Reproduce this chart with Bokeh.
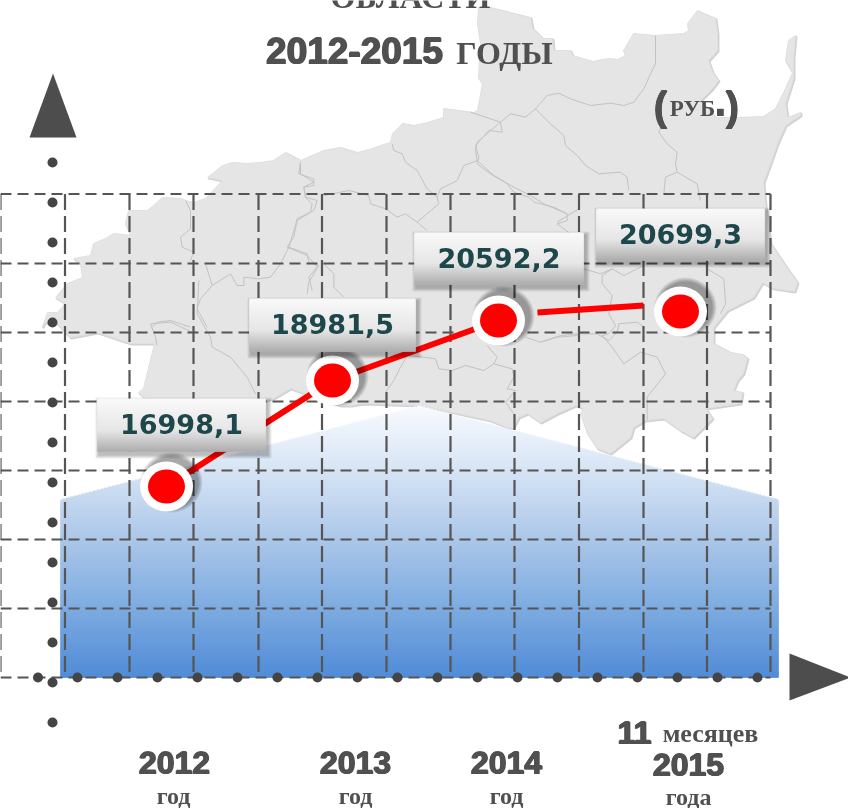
from bokeh.plotting import figure
from bokeh.models import Range1d
from bokeh.core.properties import value
from bokeh.embed import file_html
from bokeh.resources import INLINE

# ---------- chart data ----------
years = ["2012", "2013", "2014", "2015"]
year_units = ["год", "год", "год", "года"]
values = [16998.1, 18981.5, 20592.2, 20699.3]
point_x = [166, 332, 498, 680]
point_y = [486, 380, 320, 311]
box_left = [97, 249, 414, 596]
box_right = [265, 415, 583, 764]
box_top = [398, 298, 232, 208]
box_bottom = [451, 351, 284, 260]
year_x = [174, 355, 506, 688]
year_y = [762, 762, 762, 764]
unit_x = [173, 355, 506, 688]
unit_y = [795, 795, 795, 796]
grid_x = [0, 64.5, 129, 193, 258, 321.5, 386, 450, 514, 578.5, 643, 706.5, 770]
grid_y = [193.5, 263, 332, 401, 470, 539, 608, 677]
dots_v_y = [162, 202, 242, 282, 322, 362, 402, 442, 482, 522, 562, 602, 642, 682, 722]
dots_h_x = [37.5, 77, 117, 157, 197, 237, 277, 317, 357, 397, 437, 477, 517, 557, 597, 637, 677, 717, 757]
segment3_start = (537, 312)
segment3_end = (643, 305)
hill_x = [60, 419, 778]
hill_y = [499, 405, 499]
hill_base = 677
hill_stops = [(405, (248, 250, 254)), (470, (214, 228, 245)), (540, (170, 198, 232)),
              (600, (130, 174, 226)), (677, (80, 139, 214))]

map_x, map_y = zip(*[
    (478,7),(490,7),(510,12),(530,17),(532,28),(542,38),(552,38),(553,50),(570,50),(572,55),(592,61),(608,58),
    (617,59),(625,55),(623,50),(633,33),(655,35),(683,33),(688,30),(687,23),(697,10),(703,13),(715,18),(717,33),
    (717,50),(708,60),(712,72),(718,80),(712,88),(700,100),(715,117),(737,117),(763,116),(775,108),(785,88),(792,72),
    (785,60),(788,40),(795,35),(793,57),(793,78),(785,103),(787,117),(800,112),(800,115),(785,125),(777,143),
    (770,163),(763,182),(765,205),(768,225),(770,243),(787,268),(797,282),(794,291),(773,288),(762,282),(753,297),
    (727,310),(713,327),(713,343),(730,352),(742,354),(747,358),(743,373),(737,380),(733,390),(742,392),(740,403),
    (705,408),(712,418),(693,437),(680,430),(663,418),(645,420),(633,427),(630,437),(610,453),(597,448),(587,433),
    (580,413),(583,408),(575,405),(557,413),(540,422),(527,413),(518,417),(513,427),(507,427),(490,420),(420,405),
    (363,403),(350,405),(340,405),(310,395),(290,388),(273,398),(265,400),(147,400),(138,392),(143,388),(154,343),
    (130,343),(97,332),(70,337),(54,320),(43,323),(42,327),(47,312),(57,312),(65,303),(55,297),(67,283),(82,277),
    (80,263),(73,258),(90,255),(93,243),(105,238),(113,233),(130,235),(125,223),(128,210),(147,210),(162,197),
    (180,198),(185,200),(193,202),(205,198),(222,180),(207,177),(222,165),(232,162),(247,163),(260,162),(273,160),
    (285,152),(300,160),(323,150),(340,147),(357,152),(372,148),(380,145),(390,142),(392,133),(402,123),(413,125),
    (427,122),(443,117),(443,108),(473,112),(477,110),(482,83),(478,77),(480,43),(477,23),
])

borders = [
    (470, 0, [(555,105),(555,190),(540,220),(520,265),(490,305),(460,315),(420,308),(360,315),(300,295),(265,278),(230,285),(195,325),(165,350),(120,340),(90,365),(95,395),(55,390),(15,435),(25,470),(20,490),(60,520),(110,550),(130,575),(175,590),(190,605),(250,620),(290,640)]),
    (470, 0, [(195,325),(240,370),(280,405),(285,435),(320,465),(345,495),(385,520),(450,515),(470,530),(475,570)]),
    (470, 0, [(575,370),(565,395),(590,430),(620,455),(615,490),(620,515),(680,550),(690,600)]),
    (470, 0, [(620,515),(585,530),(580,580)]),
    (470, 0, [(0,335),(90,365)]),
    (280, 100, [(660,65),(630,90),(590,125),(585,150),(590,180),(640,225),(700,260),(750,285),(790,310),(860,340),(860,360),(830,370),(870,400)]),
    (280, 100, [(590,180),(550,195),(530,240),(480,265),(470,290),(475,310),(410,365)]),
    (280, 100, [(335,130),(340,150),(365,160),(375,185),(410,210),(440,265),(470,290)]),
    (280, 100, [(60,185),(55,220),(100,235),(100,255),(70,260),(75,290),(95,310),(90,335),(50,360),(40,410),(20,440),(80,465),(110,500),(85,530),(95,570)]),
    (280, 100, [(130,285),(205,270),(265,285),(270,310),(315,325),(350,350),(375,340),(410,365),(440,390)]),
    (280, 100, [(125,485),(160,520),(160,560),(190,590)]),
    (30, 130, [(810,100),(810,130),(850,155),(820,170),(825,200),(860,210),(850,240),(800,265),(790,300),(775,350),(750,400),(720,440),(685,445),(640,440),(640,465),(620,465),(600,430),(545,465),(510,505),(500,535),(530,590)]),
    (30, 130, [(775,350),(830,370),(835,395),(865,405),(835,455),(830,490)]),
    (30, 130, [(465,210),(480,240),(480,295),(450,320),(455,350),(490,365),(480,390)]),
    (30, 130, [(525,400),(545,465)]),
    (30, 130, [(365,590),(380,575),(420,570),(480,590)]),
    (540, 200, [(50,65),(90,40),(115,25)]),
    (540, 200, [(130,205),(180,220),(215,205),(250,225),(310,195)]),
    (540, 200, [(215,205),(185,225),(185,250),(215,285),(205,340),(225,375),(205,400),(185,405),(215,440),(250,490),(300,455),(350,470),(375,520),(320,590),(320,660)]),
    (540, 200, [(235,370),(290,365),(310,380)]),
    (540, 200, [(235,370),(230,395),(205,420)]),
    (540, 200, [(500,205),(550,235),(555,310),(540,340)]),
    (540, 200, [(0,425),(60,405),(115,400),(170,400),(205,420)]),
    (380, 280, [(435,170),(480,185),(530,170),(590,165),(600,155)]),
    (380, 280, [(320,195),(350,230),(340,250),(310,270),(255,255),(215,270),(175,265),(165,235),(130,230),(80,225),(60,260),(40,300),(15,335)]),
    (380, 280, [(340,250),(395,265),(400,290),(380,325),(405,330),(375,365),(400,400)]),
    (130, 280, [(205,0),(200,100),(240,170),(245,200),(300,230),(350,290),(375,340)]),
    (130, 280, [(60,130),(120,125),(185,155)]),
    (130, 280, [(60,130),(75,170),(80,195)]),
]

INK = "#505050"
TEAL = "#1e474c"

p = figure(width=848, height=808, output_backend="svg", toolbar_location=None,
           x_range=Range1d(0, 848), y_range=Range1d(808, 0), min_border=0,
           outline_line_color=None, border_fill_color="white", background_fill_color="white")
p.axis.visible = False
p.grid.visible = False
p.styles = {"position": "fixed", "left": "0px", "top": "0px"}

def label(x, y, s, font, size, color=INK, style="bold", heavy=0.0, align="center"):
    offsets = [(0.0, 0.0)] if not heavy else [(-heavy, 0.0), (heavy, 0.0), (0.0, -heavy), (0.0, heavy), (0.0, 0.0)]
    for dx, dy in offsets:
        p.text([x + dx], [y + dy], text=[s], text_font=value(font), text_font_size=f"{size}px",
               text_font_style=style, text_color=color, text_align=align, text_baseline="middle")

# map
p.patch([x + 1 for x in map_x], [y + 1 for y in map_y], fill_color="#d2d2d2", line_color="#d2d2d2", line_width=2)
p.patch(list(map_x), list(map_y), fill_color="#e5e5e5", line_color="#e0e0e0", line_width=1)
for ox, oy, pts in borders:
    p.line([ox + a / 3 for a, _ in pts], [oy + b / 3 for _, b in pts], line_color="#c2c2c2", line_width=1)

# blue hill, drawn as overlapping rows so that no row lets the map through
def stop_colour(y):
    for (y0, c0), (y1, c1) in zip(hill_stops, hill_stops[1:]):
        if y <= y1:
            t = (y - y0) / (y1 - y0)
            return "#%02x%02x%02x" % tuple(round(a + (b - a) * t) for a, b in zip(c0, c1))
    return "#%02x%02x%02x" % hill_stops[-1][1]

ql, qr, qt, qb, qc = [], [], [], [], []
for y in range(hill_y[1], hill_base):
    if y < hill_y[0]:
        t = (y + 0.5 - hill_y[1]) / (hill_y[0] - hill_y[1])
        l = hill_x[1] + (hill_x[0] - hill_x[1]) * t
        r = hill_x[1] + (hill_x[2] - hill_x[1]) * t
    else:
        l, r = hill_x[0], hill_x[2]
    ql.append(l); qr.append(r); qt.append(y); qb.append(min(y + 3, hill_base)); qc.append(stop_colour(y))
p.quad(left=ql, right=qr, top=qt, bottom=qb, fill_color=qc, line_color=None)

# dashed grid
for y in grid_y:
    p.line([grid_x[0], grid_x[-1]], [y, y], line_color="#555555", line_width=2.2, line_dash="11 6")
for x in grid_x:
    p.line([x, x], [grid_y[0], grid_y[-1]], line_color="#555555", line_width=2.2, line_dash="16 6")

# dotted axes and arrows
p.ellipse([52] * len(dots_v_y), dots_v_y, width=10, height=10, fill_color="#444444", line_color=None)
p.ellipse(dots_h_x, [677] * len(dots_h_x), width=10, height=10, fill_color="#444444", line_color=None)
p.patch([29, 52.5, 76], [137, 73, 137], fill_color="#4d4d4d", line_color=None)
p.patch([789, 789, 850], [653, 700, 677], fill_color="#4d4d4d", line_color=None)

# red line
p.line(point_x[:3], point_y[:3], line_color="#ff0000", line_width=6)
p.line([segment3_start[0], segment3_end[0]], [segment3_start[1], segment3_end[1]], line_color="#ff0000", line_width=6)

# markers
for grow in (10, 8, 6, 4, 2):
    p.ellipse([x + 5 for x in point_x], [y - 4 for y in point_y], width=52 + grow, height=50 + grow,
              fill_color="#000000", fill_alpha=0.08, line_color=None)
p.ellipse(point_x, point_y, width=53, height=50, fill_color="white", line_color=None)
p.ellipse(point_x, point_y, width=37, height=34, fill_color="#ff0000", line_color=None)

# value boxes with shading
for grow in (4, 3, 2, 1):
    p.quad(left=[a + 2 - grow for a in box_left], right=[a + 2 + grow for a in box_right],
           top=[a + 3 - grow for a in box_top], bottom=[a + 3 + grow for a in box_bottom],
           fill_color="#000000", fill_alpha=0.07, line_color=None)
bl, br, bt, bb, bc = [], [], [], [], []
for a, b, t, u in zip(box_left, box_right, box_top, box_bottom):
    h = u - t
    for i in range(h):
        f = i / (h - 1)
        g = 249 - 19 * (f / 0.6) if f < 0.6 else 230 - 56 * ((f - 0.6) / 0.4)
        bl.append(a); br.append(b); bt.append(t + i); bb.append(min(t + i + 3, u))
        bc.append("#%02x%02x%02x" % (round(g), round(g), round(g)))
p.quad(left=bl, right=br, top=bt, bottom=bb, fill_color=bc, line_color=None)
for a, b, t, u, v in zip(box_left, box_right, box_top, box_bottom, values):
    label((a + b) / 2, (t + u) / 2 - 1, f"{v:.1f}".replace(".", ","), "DejaVu Sans", 27, TEAL)

# titles
label(410, -4, "ОБЛАСТИ", "Liberation Serif", 32)
label(354, 50, "2012-2015", "Liberation Sans", 37, heavy=0.8)
label(504, 52, "ГОДЫ", "Liberation Serif", 32)
label(660, 106, "(", "Liberation Sans", 40, heavy=0.5)
label(692, 108, "РУБ", "Liberation Serif", 23)
label(720, 99, ".", "Liberation Sans", 48)
label(732, 106, ")", "Liberation Sans", 40, heavy=0.5)

# category labels
for x, y, s in zip(year_x, year_y, years):
    label(x, y, s, "Liberation Sans", 32, heavy=0.8)
for x, y, s in zip(unit_x, unit_y, year_units):
    label(x, y, s, "Liberation Serif", 24)
label(634, 732, "11", "Liberation Sans", 32, heavy=0.8)
label(710, 733, "месяцев", "Liberation Serif", 26)

open("out.html", "w").write(file_html(p, INLINE))
